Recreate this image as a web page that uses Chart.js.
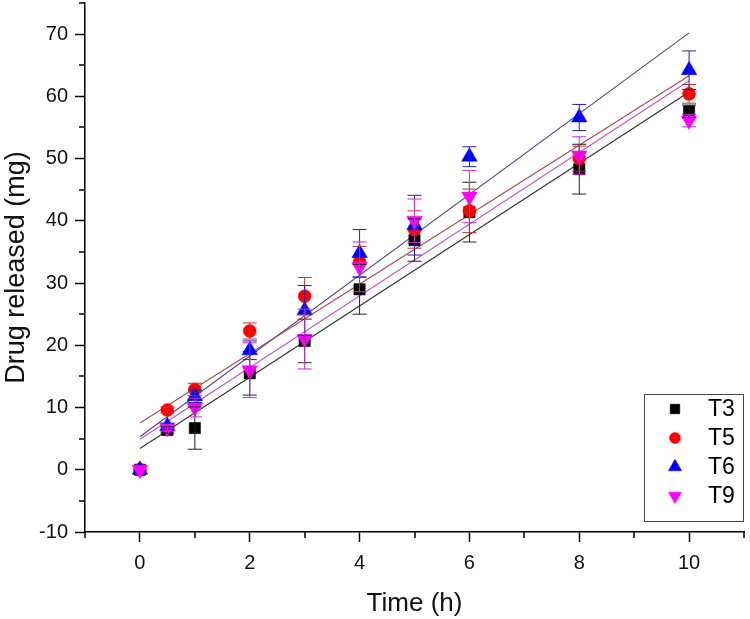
<!DOCTYPE html>
<html>
<head>
<meta charset="utf-8">
<script src="https://cdn.jsdelivr.net/npm/chart.js@4.4.0/dist/chart.umd.min.js"></script>
<style>
  html, body { margin: 0; padding: 0; background: #fff; }
  #wrap { width: 750px; height: 619px; }
</style>
</head>
<body>
<div id="wrap"><canvas id="myChart" width="750" height="619"></canvas></div>
<script>
// sampling times (h)
const times = [0, 0.5, 1, 2, 3, 4, 5, 6, 8, 10];

// drug released (mg)
const t3 = [0, 6.4, 6.7, 15.5, 20.7, 29.0, 36.9, 41.4, 48.3, 57.6];
const t5 = [0, 9.6, 12.9, 22.3, 27.9, 33.4, 38.6, 41.6, 50.0, 60.4];
const t6 = [0, 7.0, 11.8, 19.2, 25.6, 34.8, 39.3, 50.3, 56.6, 64.2];
const t9 = [0, 6.7, 10.0, 16.0, 21.0, 32.6, 40.0, 43.9, 50.5, 56.1];

// error bar half-lengths
const t3Err = [0, 0.5, 3.4, 3.5, 3.5, 4.0, 3.4, 4.8, 4.0, 1.0];
const t5Err = [0, 0.5, 1.0, 1.3, 3.0, 2.5, 3.0, 3.5, 2.0, 1.5];
const t6Err = [0, 0.5, 1.0, 1.5, 4.0, 3.8, 4.8, 1.6, 2.1, 3.1];
const t9Err = [0, 0.5, 1.5, 4.4, 4.8, 4.0, 3.5, 4.2, 3.0, 1.0];

// linear fit lines, value at t = 0 and t = 10
const fitTimes = [0, 10];
const t3Fit = [3.4, 60.7];
const t5Fit = [7.5, 63.3];
const t6Fit = [5.3, 70.2];
const t9Fit = [4.9, 62.5];

const xTicks = [0, 2, 4, 6, 8, 10];
const yTicks = [-10, 0, 10, 20, 30, 40, 50, 60, 70];
const xMinor = [-1, 1, 3, 5, 7, 9, 11];
const yMinor = [-5, 5, 15, 25, 35, 45, 55, 65, 75];

const toPts = (xs, ys) => xs.map((x, i) => ({ x: x, y: ys[i] }));

// don't reserve extra room around the plot for big markers
Chart.registry.getController('scatter').prototype.getMaxOverflow = function () { return 0; };
Chart.registry.getController('line').prototype.getMaxOverflow = function () { return 0; };

const markerDefs = [
  { label: 'T3', data: t3, err: t3Err, color: '#000000', errColor: '#222222', style: 'rect', radius: 8, rot: 0, order: 4 },
  { label: 'T5', data: t5, err: t5Err, color: '#ff0000', errColor: '#c03030', style: 'circle', radius: 6.5, rot: 0, order: 3 },
  { label: 'T6', data: t6, err: t6Err, color: '#0000ff', errColor: '#2020c0', style: 'triangle', radius: 9, rot: 0, order: 2 },
  { label: 'T9', data: t9, err: t9Err, color: '#ff00ff', errColor: '#c030c0', style: 'triangle', radius: 9, rot: 180, order: 1 },
];

const fitDefs = [
  { data: t3Fit, color: '#333333' },
  { data: t5Fit, color: '#b04a4a' },
  { data: t6Fit, color: '#4a4a9a' },
  { data: t9Fit, color: '#c35ac3' },
];

const datasets = [];
fitDefs.forEach(f => {
  datasets.push({
    type: 'line',
    data: toPts(fitTimes, f.data),
    borderColor: f.color,
    borderWidth: 1.2,
    pointRadius: 0,
    fill: false,
    order: 10,
  });
});
markerDefs.forEach(m => {
  datasets.push({
    type: 'scatter',
    label: m.label,
    data: toPts(times, m.data),
    errors: m.err,
    errColor: m.errColor,
    backgroundColor: m.color,
    borderColor: m.color,
    borderWidth: 0.5,
    pointStyle: m.style,
    pointRadius: m.radius,
    pointRotation: m.rot,
    order: m.order,
  });
});

// vertical error bars with caps
const errorBars = {
  id: 'errorBars',
  afterDatasetsDraw(chart) {
    const ctx = chart.ctx;
    const xs = chart.scales.x, ys = chart.scales.y;
    ctx.save();
    ctx.lineWidth = 1;
    chart.data.datasets.forEach(ds => {
      if (!ds.errors) return;
      ctx.strokeStyle = ds.errColor;
      ds.data.forEach((p, i) => {
        const e = ds.errors[i];
        if (!e) return;
        const px = xs.getPixelForValue(p.x);
        const top = ys.getPixelForValue(p.y + e);
        const bot = ys.getPixelForValue(p.y - e);
        ctx.beginPath();
        ctx.moveTo(px, top); ctx.lineTo(px, bot);
        ctx.moveTo(px - 7, top); ctx.lineTo(px + 7, top);
        ctx.moveTo(px - 7, bot); ctx.lineTo(px + 7, bot);
        ctx.stroke();
      });
    });
    ctx.restore();
  }
};

// short minor ticks outside the axes
const minorTicks = {
  id: 'minorTicks',
  afterDraw(chart) {
    const ctx = chart.ctx;
    const xs = chart.scales.x, ys = chart.scales.y;
    const area = chart.chartArea;
    ctx.save();
    ctx.strokeStyle = '#000';
    ctx.lineWidth = 1.5;
    ctx.beginPath();
    xMinor.forEach(v => {
      const px = Math.round(xs.getPixelForValue(v));
      ctx.moveTo(px, area.bottom); ctx.lineTo(px, area.bottom + 6);
    });
    yMinor.forEach(v => {
      const py = Math.round(ys.getPixelForValue(v));
      ctx.moveTo(area.left, py); ctx.lineTo(area.left - 6, py);
    });
    ctx.stroke();
    ctx.restore();
  }
};

// boxed legend in the lower right corner
const boxLegend = {
  id: 'boxLegend',
  afterDraw(chart) {
    const ctx = chart.ctx;
    const left = 644, top = 394, right = 743, bottom = 521;
    ctx.save();
    ctx.fillStyle = '#fff';
    ctx.fillRect(left, top, right - left, bottom - top);
    ctx.strokeStyle = '#444';
    ctx.lineWidth = 1;
    ctx.strokeRect(left + 0.5, top + 0.5, right - left, bottom - top);
    ctx.font = '23px "Liberation Sans", Arial, sans-serif';
    ctx.textBaseline = 'middle';
    ctx.textAlign = 'left';
    markerDefs.forEach((m, i) => {
      const cy = 409 + i * 29;
      ctx.fillStyle = m.color;
      ctx.strokeStyle = m.color;
      ctx.lineWidth = 0.5;
      Chart.helpers.drawPoint(ctx, { pointStyle: m.style, radius: m.radius * 0.85, rotation: m.rot, borderWidth: 0.5 }, 675, cy);
      ctx.fillStyle = '#000';
      ctx.fillText(m.label, 708, cy + 1);
    });
    ctx.restore();
  }
};

const tickFont = { family: '"Liberation Sans", Arial, sans-serif', size: 20 };
const titleFont = { family: '"Liberation Sans", Arial, sans-serif', size: 26 };

new Chart(document.getElementById('myChart'), {
  type: 'scatter',
  data: { datasets: datasets },
  options: {
    responsive: false,
    animation: false,
    layout: { padding: { top: 3, right: 6, left: 0, bottom: 0 } },
    plugins: {
      legend: { display: false },
      tooltip: { enabled: false },
    },
    scales: {
      x: {
        type: 'linear',
        min: -1,
        max: 11,
        afterBuildTicks: s => { s.ticks = xTicks.map(v => ({ value: v })); },
        afterFit: s => { s.height = 87; s.paddingLeft = 0; s.paddingRight = 0; },
        border: { color: '#000', width: 1.5 },
        grid: { drawOnChartArea: false, drawTicks: true, tickLength: 10, tickColor: '#000', tickWidth: 1.5 },
        ticks: { font: tickFont, color: '#111', padding: 9, autoSkip: false, maxRotation: 0 },
        title: { display: true, text: 'Time (h)', font: titleFont, color: '#111', padding: { top: 4, bottom: 0 } },
      },
      y: {
        type: 'linear',
        min: -10,
        max: 75,
        afterBuildTicks: s => { s.ticks = yTicks.map(v => ({ value: v })); },
        afterFit: s => { s.width = 85; s.paddingTop = 0; s.paddingBottom = 0; },
        border: { color: '#000', width: 1.5 },
        grid: { drawOnChartArea: false, drawTicks: true, tickLength: 10, tickColor: '#000', tickWidth: 1.5 },
        ticks: { font: tickFont, color: '#111', padding: 7, autoSkip: false },
        title: { display: true, text: 'Drug released (mg)', font: { family: titleFont.family, size: 27 }, color: '#111', padding: { top: 0, bottom: 4 } },
      },
    },
  },
  plugins: [errorBars, minorTicks, boxLegend],
});
</script>
</body>
</html>
